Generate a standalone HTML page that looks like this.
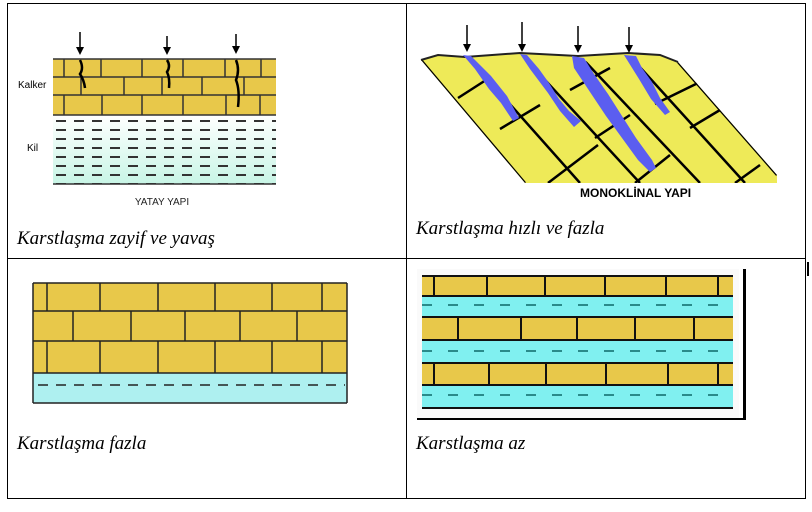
<!DOCTYPE html><html><head><style>body{margin:0;background:#fff;width:812px;height:507px;overflow:hidden}
.s{font-family:"Liberation Sans",sans-serif}
.c{font-family:"Liberation Serif",serif;font-style:italic;font-size:19px}</style></head><body>
<svg width="812" height="507" viewBox="0 0 812 507" xmlns="http://www.w3.org/2000/svg">
<defs>
<pattern id="dash" width="18" height="9" patternUnits="userSpaceOnUse"><rect x="2" y="3" width="10" height="2" fill="#333"/></pattern>
<linearGradient id="clay" x1="0" y1="0" x2="0" y2="1"><stop offset="0" stop-color="#fff"/><stop offset="1" stop-color="#c8f5e6"/></linearGradient>
<clipPath id="para"><polygon points="421,60 678,62 777,175 777,183 525,183"/></clipPath>
</defs>
<g stroke="#000" stroke-width="1" fill="none">
<rect x="7.5" y="3.5" width="798" height="495"/>
<line x1="406.5" y1="3" x2="406.5" y2="498"/>
<line x1="7" y1="258.5" x2="806" y2="258.5"/>
</g>
<rect x="807" y="262" width="2" height="14" fill="#000"/>
<rect x="53" y="59" width="223" height="56" fill="#e8c84a"/>
<rect x="53" y="115" width="223" height="69" fill="url(#clay)"/>
<rect x="53" y="115" width="223" height="69" fill="url(#dash)"/>
<g stroke="#333" stroke-width="1.5">
<line x1="53" y1="59" x2="276" y2="59"/><line x1="53" y1="77" x2="276" y2="77"/><line x1="53" y1="95" x2="276" y2="95"/><line x1="53" y1="115" x2="276" y2="115"/><line x1="53" y1="184" x2="276" y2="184"/>
<path d="M64 59v18M101 59v18M142 59v18M183 59v18M225 59v18M261 59v18M81 77v18M124 77v18M162 77v18M202 77v18M244 77v18M64 95v20M102 95v20M142 95v20M183 95v20M226 95v20M260 95v20"/>
</g>
<g stroke="#000" stroke-width="1.5"><line x1="80" y1="32" x2="80" y2="48"/><line x1="167" y1="36" x2="167" y2="48"/><line x1="236" y1="34" x2="236" y2="47"/></g>
<g fill="#000"><path d="M76 47h8l-4 8z"/><path d="M163 47h8l-4 8z"/><path d="M232 46h8l-4 8z"/></g>
<g stroke="#000" fill="none" stroke-width="2.5"><path d="M80 60q4 8 0 14q4 6 5 14"/><path d="M167 60q4 6 0 12q3 6 2 16"/><path d="M236 60q4 10 0 20q4 10 2 27"/></g>
<text class="s" x="18" y="88" font-size="10">Kalker</text><text class="s" x="27" y="151" font-size="10">Kil</text>
<text class="s" x="162" y="205" font-size="10" text-anchor="middle" fill="#222">YATAY YAPI</text>
<text class="c" x="17" y="244">Karstlaşma zayif ve yavaş</text>
<polygon points="421,60 438,55 465,57 520,53 578,56 628,53 660,55 678,62 777,175 777,183 525,183" fill="#eeea58"/>
<g clip-path="url(#para)" stroke="#000" stroke-width="2.5" fill="none">
<path d="M421 60L525 183M468 57L580 183M522 55L640 183M580 56L700 183M628 54L745 183M678 62L777 175"/>
<path d="M458 98L486 80M500 129L540 105M475 183L500 163M548 183L598 145M595 138L630 115M570 90L610 68M635 183L670 155M690 128L720 110M735 183L760 165M655 104L700 82"/>
</g>
<path d="M421 60L438 55 465 57 520 53 578 56 628 53 660 55 678 62" stroke="#222" stroke-width="2" fill="none"/>
<g fill="#5b5ef0">
<path d="M463 55l8 1 8 8 12 12 8 10 8 10 12 22 -6 3 -12 -18 -12 -14 -14 -20z"/>
<path d="M520 54l7 1 12 14 10 14 10 16 10 12 12 10 -7 6 -14 -16 -12 -18 -18 -24z"/>
<path d="M572 56l12 2 10 16 14 20 14 22 14 22 16 22 4 8 -6 4 -12 -12 -16 -22 -16 -22 -16 -24 -16 -24z"/>
<path d="M624 55l12 1 6 12 10 14 8 16 10 14 -5 3 -14 -16 -12 -20z"/>
</g>
<g stroke="#000" stroke-width="1.5"><line x1="467" y1="25" x2="467" y2="45"/><line x1="522" y1="22" x2="522" y2="45"/><line x1="578" y1="26" x2="578" y2="46"/><line x1="629" y1="27" x2="629" y2="46"/></g>
<g fill="#000"><path d="M463 44h8l-4 8z"/><path d="M518 44h8l-4 8z"/><path d="M574 45h8l-4 8z"/><path d="M625 45h8l-4 8z"/></g>
<text class="s" x="580" y="197" font-size="12" font-weight="bold">MONOKLİNAL YAPI</text>
<text class="c" x="416" y="234">Karstlaşma hızlı ve fazla</text>
<rect x="33" y="283" width="314" height="90" fill="#e8c84a"/>
<rect x="33" y="373" width="314" height="30" fill="#aef0f0"/>
<g stroke="#222" stroke-width="1.5" fill="none">
<line x1="33" y1="283" x2="347" y2="283"/><line x1="33" y1="311" x2="347" y2="311"/><line x1="33" y1="341" x2="347" y2="341"/><line x1="33" y1="373" x2="347" y2="373"/>
<path d="M33 283v90M347 283v120M33 373v30M33 403h314"/>
<path d="M47 283v28M100 283v28M158 283v28M215 283v28M272 283v28M322 283v28M73 311v30M131 311v30M185 311v30M240 311v30M297 311v30M47 341v32M100 341v32M158 341v32M215 341v32M272 341v32M322 341v32"/>
<line x1="38" y1="385" x2="345" y2="385" stroke-dasharray="10 8"/>
</g>
<text class="c" x="17" y="449">Karstlaşma fazla</text>
<rect x="417" y="269" width="322" height="151" fill="#fafafa"/>
<rect x="422" y="276" width="311" height="20" fill="#e8c84a"/>
<rect x="422" y="296" width="311" height="22" fill="#80f0f0"/>
<rect x="422" y="318" width="311" height="22" fill="#e8c84a"/>
<rect x="422" y="340" width="311" height="22" fill="#80f0f0"/>
<rect x="422" y="363" width="311" height="22" fill="#e8c84a"/>
<rect x="422" y="385" width="311" height="22" fill="#80f0f0"/>
<g stroke="#111" stroke-width="2" fill="none">
<path d="M422 276h311M422 296h311M422 317h311M422 340h311M422 363h311M422 385h311M422 408h311"/>
<path d="M434 276v20M487 276v20M545 276v20M605 276v20M666 276v20M718 276v20M458 318v22M521 318v22M577 318v22M635 318v22M694 318v22M434 363v22M489 363v22M546 363v22M606 363v22M668 363v22M718 363v22"/>
</g>
<g stroke="#2a8a8a" stroke-width="2" stroke-dasharray="10 16"><path d="M422 305h311M422 351h311M422 395h311"/></g>
<rect x="743" y="269" width="3" height="151" fill="#000"/>
<rect x="417" y="418" width="329" height="2" fill="#000"/>
<text class="c" x="416" y="449">Karstlaşma az</text>
</svg></body></html>
